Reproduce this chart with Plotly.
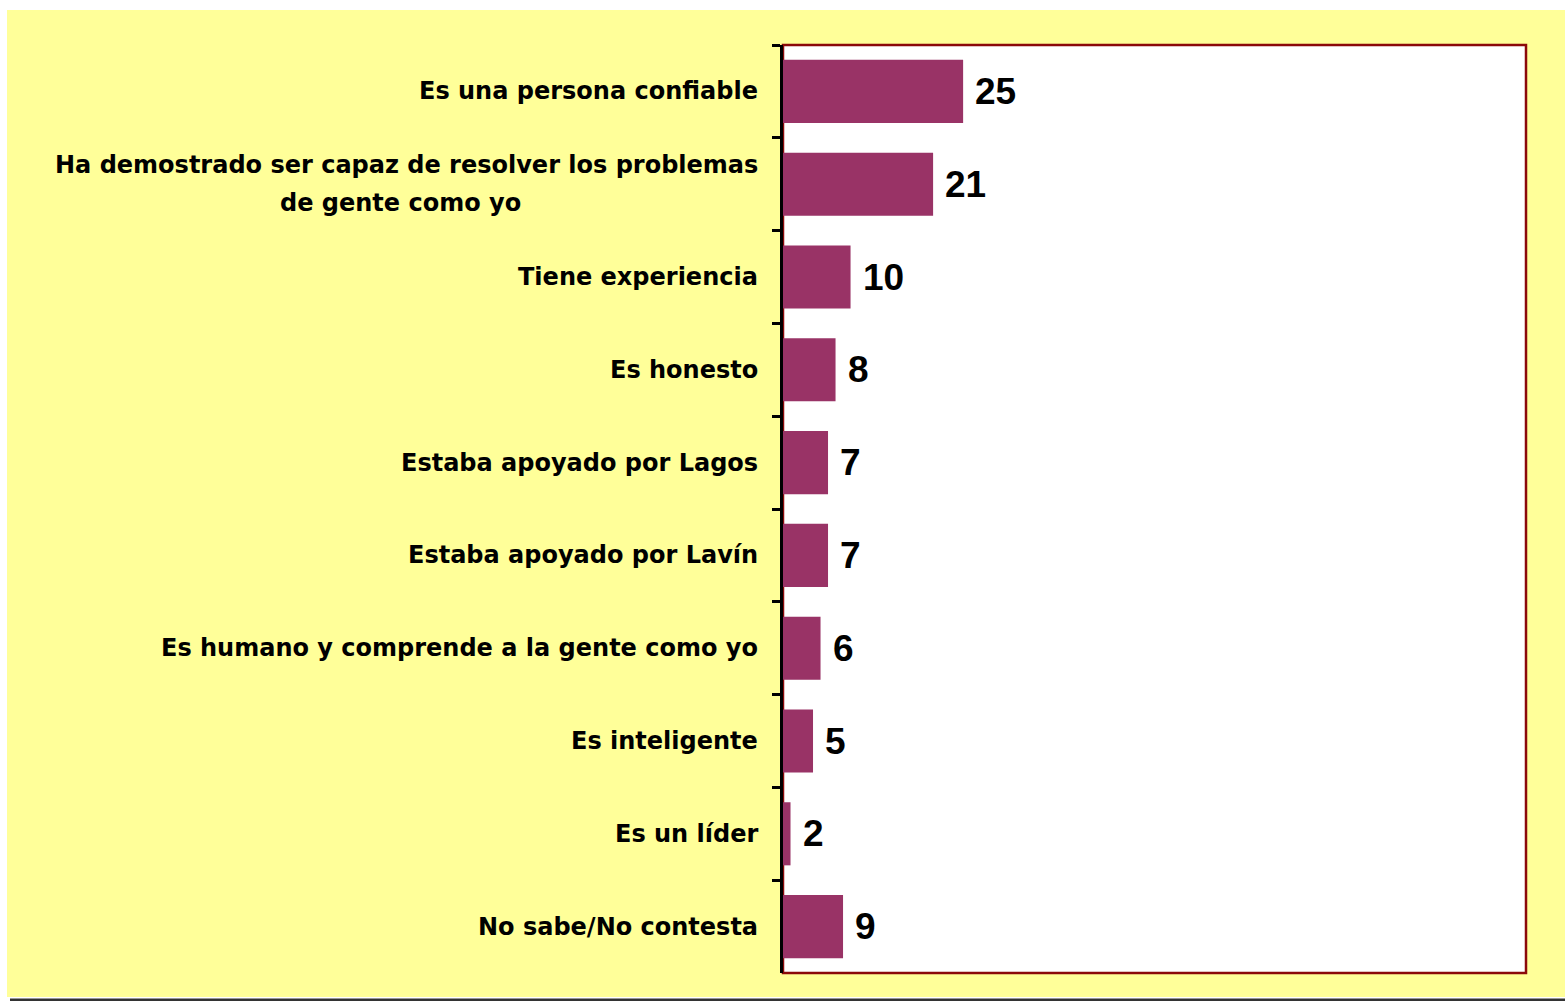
import plotly.graph_objects as go

categories = [
    "Es una persona confiable",
    "Ha demostrado ser capaz de resolver los problemas<br>de gente como yo",
    "Tiene experiencia",
    "Es honesto",
    "Estaba apoyado por Lagos",
    "Estaba apoyado por Lavín",
    "Es humano y comprende a la gente como yo",
    "Es inteligente",
    "Es un líder",
    "No sabe/No contesta",
]
values = [25, 21, 10, 8, 7, 7, 6, 5, 2, 9]
value_labels = ["25", "21", "10", "8", "7", "7", "6", "5", "2", "9"]

BAR = "#993366"
YELLOW = "#FFFF99"
BORDER = "#8B0A0A"
LABEL_FONT = "DejaVu Sans"
VALUE_FONT = "Liberation Sans"

W, H = 1565, 1001
L, R, T, B = 783, 39, 45, 28
pw, ph = W - L - R, H - T - B

def px_x(p):
    return (p - L) / pw

def px_y(p):
    return (H - B - p) / ph

fig = go.Figure(
    go.Bar(
        x=values,
        y=categories,
        orientation="h",
        marker=dict(color=BAR, line=dict(width=0)),
        hoverinfo="x+y",
    )
)

label_font = dict(family=LABEL_FONT, size=24, color="black", weight="bold")
annotations = []
for c in categories:
    lines = c.split("<br>")
    if len(lines) == 1:
        annotations.append(dict(
            x=0, xref="paper", y=c, yref="y",
            xanchor="right", yanchor="middle", xshift=-23,
            text=c, showarrow=False, font=label_font,
        ))
    else:
        gap = 38
        n = len(lines)
        for i, ln in enumerate(lines):
            ys = (n - 1) / 2 * gap - i * gap
            if i == 0:
                annotations.append(dict(
                    x=0, xref="paper", y=c, yref="y",
                    xanchor="right", yanchor="middle", xshift=-23, yshift=ys,
                    text=ln, showarrow=False, font=label_font,
                ))
            else:
                annotations.append(dict(
                    x=px_x(400), xref="paper", y=c, yref="y",
                    xanchor="center", yanchor="middle", yshift=ys,
                    text=ln, showarrow=False, font=label_font,
                ))
for c, v, t in zip(categories, values, value_labels):
    annotations.append(dict(
        x=v, xref="x", y=c, yref="y",
        xanchor="left", yanchor="middle", xshift=10,
        text=t, showarrow=False,
        font=dict(family=VALUE_FONT, size=37, color="black", weight="bold"),
    ))

shapes = [
    dict(type="rect", xref="paper", yref="paper", x0=px_x(0), x1=px_x(7), y0=px_y(H), y1=px_y(0),
         fillcolor="white", line=dict(width=0), layer="below"),
    dict(type="rect", xref="paper", yref="paper", x0=px_x(0), x1=px_x(W), y0=px_y(10), y1=px_y(0),
         fillcolor="white", line=dict(width=0), layer="below"),
    dict(type="rect", xref="paper", yref="paper", x0=px_x(0), x1=px_x(W), y0=px_y(H), y1=px_y(997),
         fillcolor="white", line=dict(width=0), layer="below"),
    dict(type="rect", xref="paper", yref="paper", x0=px_x(10), x1=px_x(W), y0=px_y(H), y1=px_y(998.5),
         fillcolor="#333333", line=dict(width=0), layer="below"),
    dict(type="rect", xref="paper", yref="paper", x0=0, x1=1, y0=0, y1=1,
         fillcolor="rgba(0,0,0,0)", line=dict(color=BORDER, width=2.5), layer="below"),
]

fig.update_layout(
    width=W, height=H,
    margin=dict(l=L, r=R, t=T, b=B, pad=0),
    paper_bgcolor=YELLOW,
    plot_bgcolor="white",
    bargap=0.32,
    showlegend=False,
    annotations=annotations,
    shapes=shapes,
    xaxis=dict(range=[1, 100], visible=False, fixedrange=True),
    yaxis=dict(
        categoryorder="array", categoryarray=categories, autorange="reversed",
        showticklabels=False, ticks="outside", tickson="boundaries",
        ticklen=8, tickwidth=3, tickcolor="black",
        showline=True, linewidth=3, linecolor="black",
        showgrid=False, zeroline=False, fixedrange=True,
    ),
)

fig.write_html(
    "out.html",
    config={"displayModeBar": False},
    post_script="document.body.style.margin='0px';document.body.style.overflow='hidden';",
)
